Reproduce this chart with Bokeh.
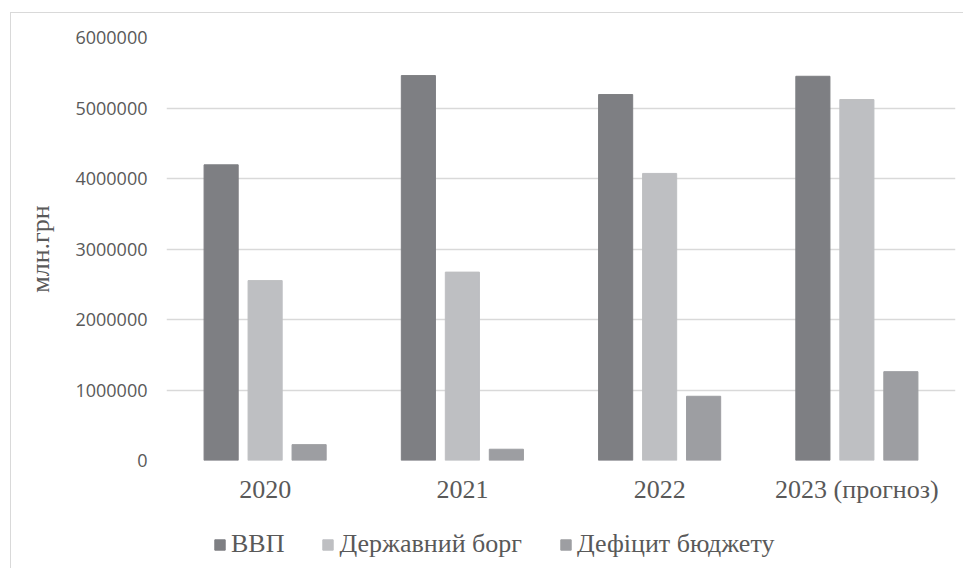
from bokeh.plotting import figure
from bokeh.layouts import column
from bokeh.models import ColumnDataSource, FactorRange, Range1d, FixedTicker, BasicTickFormatter, Legend, LegendItem
from bokeh.transform import dodge
from bokeh.embed import file_html
from bokeh.resources import INLINE

categories = ["2020", "2021", "2022", "2023 (прогноз)"]
gdp = [4194000, 5460000, 5191000, 5450000]
debt = [2552000, 2672000, 4072000, 5120000]
deficit = [225000, 160000, 911000, 1260000]
series_names = ["ВВП", "Державний борг", "Дефіцит бюджету"]
y_ticks = [0, 1000000, 2000000, 3000000, 4000000, 5000000, 6000000]

colors = ["#7e7f83", "#bebfc2", "#9d9ea2"]
fields = ["gdp", "debt", "deficit"]

src = ColumnDataSource(dict(cat=categories, gdp=gdp, debt=debt, deficit=deficit))

p = figure(
    x_range=FactorRange(*categories, range_padding=0),
    y_range=Range1d(0, 6000000),
    width=963, height=518,
    output_backend="svg", toolbar_location=None,
    min_border_left=166, min_border_right=8, min_border_top=37, min_border_bottom=58,
)
p.border_fill_color = None
p.background_fill_color = "white"
p.outline_line_color = None

w = 0.173
off = 0.223
offsets = [-off, 0, off]
for f, c, o in zip(fields, colors, offsets):
    p.vbar(x=dodge("cat", o, range=p.x_range), top=f, width=w, source=src,
           fill_color=c, line_color=c)

p.xgrid.grid_line_color = None
p.ygrid.grid_line_color = "#d9d9d9"
p.ygrid.grid_line_width = 1.5
p.ygrid.ticker = FixedTicker(ticks=y_ticks)

p.yaxis.ticker = FixedTicker(ticks=y_ticks)
p.yaxis.formatter = BasicTickFormatter(use_scientific=False)
p.yaxis.axis_line_color = None
p.yaxis.major_tick_line_color = None
p.yaxis.minor_tick_line_color = None
p.yaxis.major_label_text_font = "Open Sans"
p.yaxis.major_label_text_font_size = "18px"
p.yaxis.major_label_text_color = "#595959"
p.yaxis.major_label_standoff = 13
p.yaxis.axis_label = "млн.грн"
p.yaxis.axis_label_text_font = "Liberation Serif"
p.yaxis.axis_label_text_font_size = "26px"
p.yaxis.axis_label_text_font_style = "normal"
p.yaxis.axis_label_text_color = "#595959"
p.yaxis.axis_label_standoff = 17

p.xaxis.axis_line_color = None
p.xaxis.major_tick_line_color = None
p.xaxis.minor_tick_line_color = None
p.xaxis.major_label_text_font = "Liberation Serif"
p.xaxis.major_label_text_font_size = "26px"
p.xaxis.major_label_text_color = "#595959"
p.xaxis.major_label_standoff = 8

# legend strip below the chart (same series; renderers hidden, only legend shown)
pl = figure(
    x_range=FactorRange(*categories, range_padding=0), y_range=Range1d(0, 6000000),
    width=963, height=50,
    output_backend="svg", toolbar_location=None,
    x_axis_type=None, y_axis_type=None,
    min_border=0,
)
pl.border_fill_color = None
pl.background_fill_color = None
pl.outline_line_color = None
pl.xgrid.grid_line_color = None
pl.ygrid.grid_line_color = None
lr = [pl.vbar(x="cat", top=f, width=0.1, source=src, fill_color=c, line_color=c,
              visible=False)
      for f, c in zip(fields, colors)]

legend = Legend(
    items=[LegendItem(label=n, renderers=[r]) for n, r in zip(series_names, lr)],
    orientation="horizontal",
    location=(47, 9),
    label_text_font="Liberation Serif",
    label_text_font_size="26px",
    label_text_color="#595959",
    glyph_width=13, glyph_height=13,
    label_standoff=5, spacing=37,
    padding=0, margin=0,
    border_line_color=None,
    background_fill_alpha=0,
    inactive_fill_alpha=0,
)
pl.add_layout(legend, "center")

layout = column(p, pl, spacing=0)
layout.styles = {
    "background": "linear-gradient(#d9d9d9,#d9d9d9) 10px 12px / 1px 100% no-repeat, "
                  "linear-gradient(#d9d9d9,#d9d9d9) 10px 12px / 100% 1px no-repeat, white"
}

open("out.html", "w").write(file_html(layout, INLINE))
